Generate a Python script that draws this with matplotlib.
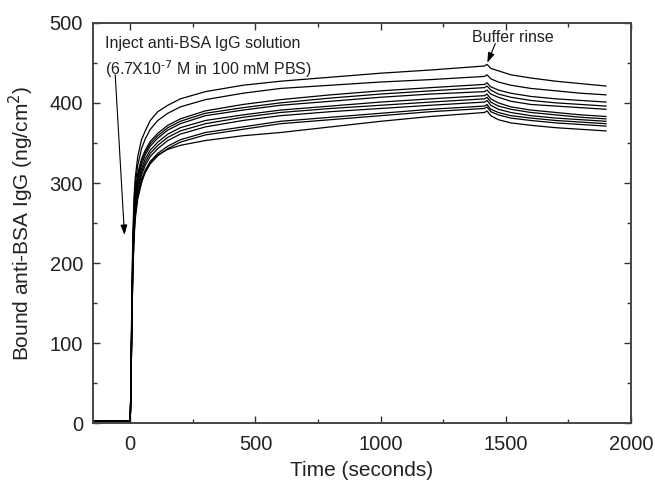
import matplotlib
matplotlib.use("Agg")
import matplotlib.pyplot as plt
from matplotlib.ticker import MultipleLocator

plt.rcParams['font.family'] = ['Liberation Sans', 'DejaVu Sans']

# Time points (seconds)
time_s = [-150, -2, 0, 3, 6, 10, 15, 20, 30, 45, 60, 80, 110, 150, 200, 300, 450,
          600, 800, 1000, 1200, 1415, 1425, 1440, 1470, 1520, 1600, 1700, 1800, 1900]

# Bound anti-BSA IgG (ng/cm^2), one list per sensor trace
curve_1 = [3, 3, 3, 60, 150, 230, 282, 307, 333, 354, 365, 378, 389, 397, 405, 414, 422,
           427, 432, 437, 441, 446, 448, 443, 440, 435, 431, 427, 424, 421]
curve_2 = [3, 3, 3, 55, 140, 220, 272, 298, 322, 343, 355, 367, 378, 387, 395, 404, 412,
           418, 422, 426, 429, 433, 435, 430, 426, 422, 418, 415, 412, 410]
curve_3 = [3, 3, 3, 52, 135, 212, 262, 288, 312, 330, 341, 352, 362, 372, 380, 390, 398,
           404, 410, 415, 419, 423, 425, 420, 416, 412, 408, 405, 403, 401]
curve_4 = [3, 3, 3, 50, 132, 208, 258, 284, 308, 327, 338, 349, 359, 369, 377, 387, 394,
           400, 406, 411, 415, 419, 421, 416, 411, 407, 403, 400, 398, 396]
curve_5 = [3, 3, 3, 48, 128, 204, 254, 280, 304, 323, 335, 346, 356, 366, 374, 384, 391,
           397, 402, 407, 411, 414, 416, 411, 407, 402, 398, 396, 394, 392]
curve_6 = [3, 3, 3, 47, 125, 200, 250, 276, 300, 318, 330, 341, 351, 361, 369, 378, 385,
           391, 396, 401, 405, 409, 411, 405, 400, 395, 391, 388, 385, 383]
curve_7 = [3, 3, 3, 46, 122, 197, 247, 273, 296, 314, 326, 337, 347, 357, 365, 374, 382,
           388, 393, 397, 401, 405, 407, 401, 396, 392, 388, 385, 382, 380]
curve_8 = [3, 3, 3, 45, 120, 194, 243, 269, 292, 310, 322, 333, 343, 353, 361, 370, 378,
           384, 389, 393, 397, 401, 403, 397, 392, 388, 384, 381, 379, 377]
curve_9 = [3, 3, 3, 44, 117, 190, 238, 264, 287, 305, 316, 327, 337, 346, 354, 363, 370,
           377, 382, 387, 392, 396, 398, 392, 388, 384, 381, 378, 376, 374]
curve_10 = [3, 3, 3, 42, 114, 186, 234, 260, 284, 302, 313, 324, 334, 343, 351, 360, 367,
            374, 379, 384, 389, 393, 395, 389, 385, 381, 378, 375, 373, 371]
curve_11 = [3, 3, 3, 40, 110, 180, 228, 255, 280, 300, 315, 326, 335, 342, 347, 353, 359,
            363, 370, 377, 383, 388, 390, 384, 379, 375, 372, 369, 367, 365]

curves = [curve_1, curve_2, curve_3, curve_4, curve_5, curve_6,
          curve_7, curve_8, curve_9, curve_10, curve_11]

x_ticks = [0, 500, 1000, 1500, 2000]
y_ticks = [0, 100, 200, 300, 400, 500]

fig = plt.figure(figsize=(6.55, 4.83), dpi=100)
ax = fig.add_axes([0.1415, 0.1232, 0.8219, 0.8298])

for c in curves:
    ax.plot(time_s, c, color='black', lw=0.9)

ax.set_xlim(-150, 2000)
ax.set_ylim(0, 500)
ax.set_xticks(x_ticks)
ax.set_yticks(y_ticks)
ax.xaxis.set_minor_locator(MultipleLocator(250))
ax.yaxis.set_minor_locator(MultipleLocator(50))
ax.tick_params(which='both', direction='in', top=True, right=True,
               labelsize=14.5, color='#333333', labelcolor='#222222')
ax.tick_params(axis='y', pad=7)
ax.tick_params(axis='x', pad=8)
ax.tick_params(which='major', length=5, width=1.0)
ax.tick_params(which='minor', length=3, width=1.0)
for sp in ax.spines.values():
    sp.set_color('#444444')
    sp.set_linewidth(1.4)

ax.set_xlabel('Time (seconds)', fontsize=15, color='#222222', labelpad=5)
ax.set_ylabel('Bound anti-BSA IgG (ng/cm$^2$)', fontsize=15, color='#222222', labelpad=10)

ax.text(-100, 474, 'Inject anti-BSA IgG solution', fontsize=11.5, va='center', ha='left',
        color='#222222')
ax.text(-100, 442, r'(6.7X10$^{\text{-}7}$ M in 100 mM PBS)', fontsize=11.5, va='center',
        ha='left', color='#222222')
ax.annotate('', xy=(-23, 235), xytext=(-60, 435),
            arrowprops=dict(arrowstyle='-|>,head_length=0.6,head_width=0.2', color='black',
                            lw=0.8, mutation_scale=10, shrinkA=0, shrinkB=0))

ax.text(1530, 482, 'Buffer rinse', fontsize=11.5, va='center', ha='center', color='#222222')
ax.annotate('', xy=(1426, 450), xytext=(1458, 474),
            arrowprops=dict(arrowstyle='-|>,head_length=0.6,head_width=0.2', color='black',
                            lw=0.8, mutation_scale=10, shrinkA=0, shrinkB=0))

fig.savefig('out.png', dpi=100)
